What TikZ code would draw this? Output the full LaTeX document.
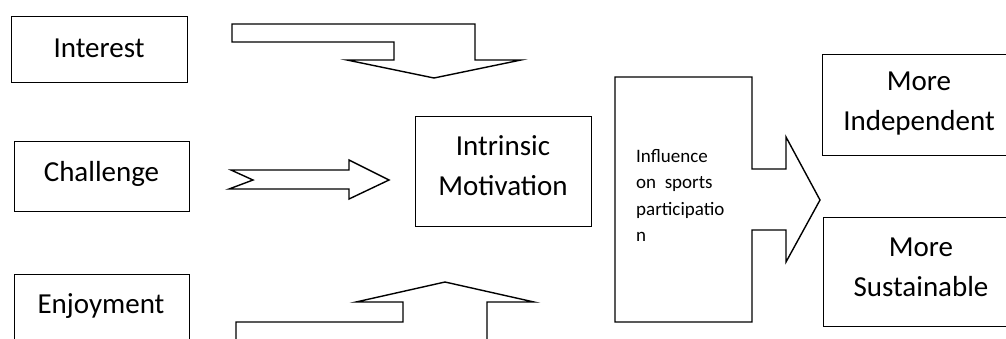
\documentclass[tikz,border=0pt]{standalone}
\usepackage{fontspec}
\setmainfont{Carlito}
\begin{document}
\begin{tikzpicture}[x=1pt,y=-1pt,
  shapeline/.style={draw=black,line width=1.4pt,line join=miter},
  boxnode/.style={draw=black,line width=1.4pt,anchor=north west,inner sep=0pt,minimum width=#1},
  bigtext/.style={font=\fontsize{29}{40}\selectfont,align=center,inner sep=0pt},
  smalltext/.style={font=\fontsize{19}{26.5}\selectfont,align=left,inner sep=0pt,anchor=north west}]
\useasboundingbox (0,0) rectangle (1006,338);
\clip (0,0) rectangle (1006,338);
% boxes
\node[boxnode=176pt,minimum height=66pt] (interest) at (11,16) {};
\node[boxnode=175pt,minimum height=70pt] (challenge) at (14,141) {};
\node[boxnode=175pt,minimum height=80pt] (enjoyment) at (14,274) {};
\node[boxnode=176pt,minimum height=110pt] (intrinsic) at (415,116) {};
\node[boxnode=260pt,minimum height=101pt] (indep) at (822,54) {};
\node[boxnode=260pt,minimum height=109pt] (sustain) at (823,217) {};
% texts
\node[bigtext] (tinterest) at (99,48) {Interest};
\node[bigtext] (tchallenge) at (101.5,174) {Challenge};
\node[bigtext] (tenjoyment) at (101,306) {Enjoyment};
\node[bigtext] (tintrinsic) at (503,166) {Intrinsic\\Motivation};
\node[bigtext] (tindep) at (919,104) {More\\Independent};
\node[bigtext] (tsustain) at (921,267) {More\\Sustainable};
% top bent arrow
\draw[shapeline] (232,24) -- (475,24) -- (475,60) -- (521,60) -- (434,78) -- (347,60) -- (394,60) -- (394,42) -- (232,42) -- cycle;
% challenge notched arrow
\draw[shapeline] (231,170) -- (349,170) -- (349,160) -- (389,180) -- (349,199) -- (349,189) -- (229,189) -- (253,180) -- cycle;
% bottom up arrow
\draw[shapeline] (236,345) -- (236,322) -- (403,322) -- (403,302) -- (356,302) -- (445,282) -- (534,302) -- (487,302) -- (487,345);
% influence block arrow
\draw[shapeline] (615,77) -- (752,77) -- (752,169) -- (786,169) -- (786,137) -- (820,200) -- (786,262) -- (786,230) -- (752,230) -- (752,322) -- (615,322) -- cycle;
\node[smalltext] (tinfluence) at (636,149) {Influence\\on\ \ sports\\participatio\\n};
\end{tikzpicture}
\end{document}
